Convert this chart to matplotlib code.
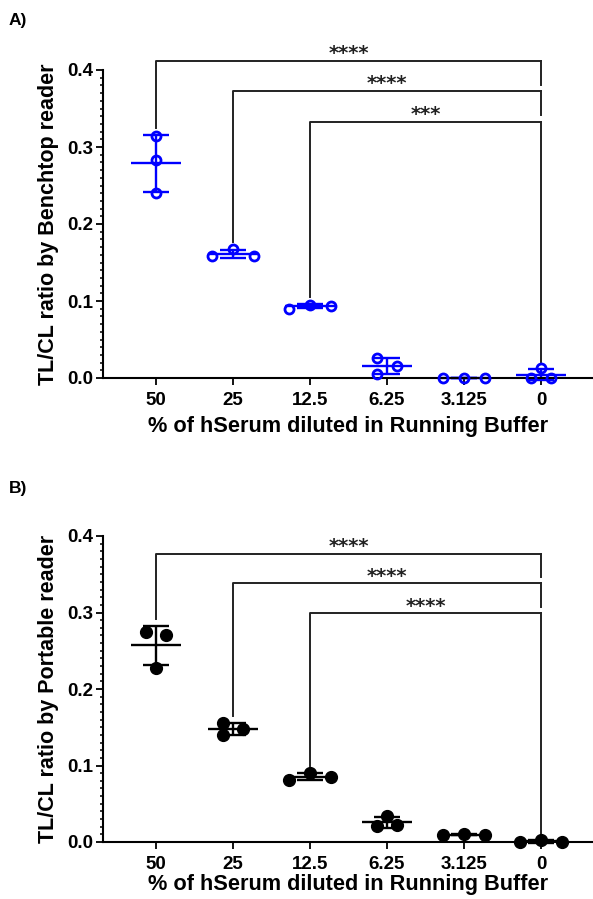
import numpy as np
import matplotlib.pyplot as plt

plt.rcParams['font.family'] = ['Liberation Sans', 'DejaVu Sans']
plt.rcParams['font.weight'] = 'bold'

categories = ['50', '25', '12.5', '6.25', '3.125', '0']
xlabel = '% of hSerum diluted in Running Buffer'

# three replicates per dilution
benchtop = [[0.314, 0.283, 0.240],
            [0.158, 0.167, 0.159],
            [0.090, 0.095, 0.094],
            [0.026, 0.016, 0.005],
            [0.0, 0.0, 0.0],
            [0.0, 0.0125, 0.0]]
portable = [[0.274, 0.270, 0.228],
            [0.155, 0.148, 0.140],
            [0.081, 0.090, 0.085],
            [0.034, 0.021, 0.022],
            [0.009, 0.010, 0.009],
            [0.0, 0.003, 0.0]]

# (group, vs group, stars)
sig_benchtop = [(0, 5, '****'), (1, 5, '****'), (2, 5, '***')]
sig_portable = [(0, 5, '****'), (1, 5, '****'), (2, 5, '****')]
bracket_y_benchtop = [0.412, 0.373, 0.333]
bracket_y_portable = [0.377, 0.338, 0.299]


def spread(vals, link=0.0115, tight=0.0105, step=0.27):
    # spread overlapping points sideways, roughly like Prism does
    vals = np.asarray(vals, dtype=float)
    order = np.argsort(-vals, kind='stable')
    rows = [[order[0]]]
    for a, b in zip(order[:-1], order[1:]):
        if vals[a] - vals[b] < link:
            rows[-1].append(b)
        else:
            rows.append([b])
    off = np.zeros(len(vals))
    for row in rows:
        k = len(row)
        if k == 1:
            continue
        if vals[row].max() - vals[row].min() < tight:
            for i, idx in enumerate(sorted(row)):
                off[idx] = (i - (k - 1) / 2) * step
        else:
            for i, idx in enumerate(row):
                off[idx] = (-0.5 if i % 2 == 0 else 0.5) * step
    return off


def panel(ax, data, color, filled, ylabel, sig, bracket_y, xpad):
    tops = []
    for i, vals in enumerate(data):
        vals = np.asarray(vals)
        m = vals.mean()
        sd = vals.std(ddof=1)
        ax.hlines(m, i - 0.325, i + 0.325, color=color, lw=1.7, clip_on=False)
        ax.vlines(i, m - sd, m + sd, color=color, lw=1.7, clip_on=False)
        ax.hlines([m - sd, m + sd], i - 0.17, i + 0.17, color=color, lw=1.7, clip_on=False)
        off = spread(vals)
        if filled:
            ax.plot(i + off, vals, 'o', color=color, ms=8.5, clip_on=False, zorder=3)
        else:
            ax.plot(i + off, vals, 'o', mfc='none', mec=color, mew=2, ms=6.5,
                    clip_on=False, zorder=3)
        tops.append(max(vals.max(), m + sd))

    for (a, b, stars), y in zip(sig, bracket_y):
        ax.plot([a, a, b], [tops[a] + 0.009, y, y], color='#222222', lw=1.4, clip_on=False)
        low = bracket_y[bracket_y.index(y) + 1] + 0.008 if y != bracket_y[-1] else tops[b] + 0.008
        ax.plot([b, b], [y, low], color='#222222', lw=1.4, clip_on=False)
        ax.text((a + b) / 2, y - 0.003, stars, ha='center', va='bottom', fontsize=14,
                family='DejaVu Sans', fontweight='bold', color='#222222')

    ax.set_xlim(-0.688, 5.675)
    ax.set_ylim(0, 0.4)
    ax.set_xticks(range(len(categories)))
    ax.set_xticklabels(categories)
    ax.set_yticks([0, 0.1, 0.2, 0.3, 0.4])
    ax.set_yticklabels(['0.0', '0.1', '0.2', '0.3', '0.4'])
    ax.set_yticks(np.arange(0, 0.401, 0.01), minor=True)
    ax.tick_params(axis='both', labelsize=13.5, width=1.3, length=5, pad=2)
    ax.tick_params(axis='y', which='minor', length=2.5, width=1.1)
    ax.tick_params(axis='x', pad=5)
    for s in ['top', 'right']:
        ax.spines[s].set_visible(False)
    for s in ['left', 'bottom']:
        ax.spines[s].set_linewidth(1.5)
    ax.set_ylabel(ylabel, fontsize=15.5, fontweight='bold', labelpad=6)
    ax.set_xlabel(xlabel, fontsize=15.7, fontweight='bold', labelpad=xpad)


fig = plt.figure(figsize=(5.93, 8.99), dpi=100)
ax1 = fig.add_axes([103 / 593, 1 - 378 / 899, 490 / 593, 308 / 899])
ax2 = fig.add_axes([103 / 593, 1 - 842 / 899, 490 / 593, 306 / 899])

panel(ax1, benchtop, '#0000ff', False, 'TL/CL ratio by Benchtop reader',
      sig_benchtop, bracket_y_benchtop, 5)
panel(ax2, portable, 'black', True, 'TL/CL ratio by Portable reader',
      sig_portable, bracket_y_portable, 1)

fig.text(9 / 593, 1 - 21 / 899, 'A)', fontsize=12.5, fontweight='bold', va='center')
fig.text(9 / 593, 1 - 488 / 899, 'B)', fontsize=12.5, fontweight='bold', va='center')

fig.savefig('out.png', dpi=100)
